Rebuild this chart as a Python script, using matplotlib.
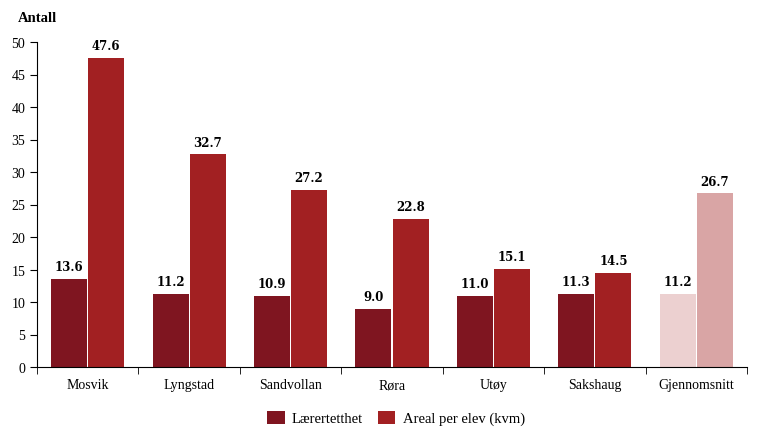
import matplotlib.pyplot as plt
import numpy as np

categories = ['Mosvik', 'Lyngstad', 'Sandvollan', 'Røra', 'Utøy', 'Sakshaug', 'Gjennomsnitt']
laerertetthet = [13.6, 11.2, 10.9, 9.0, 11.0, 11.3, 11.2]
areal = [47.6, 32.7, 27.2, 22.8, 15.1, 14.5, 26.7]

dark = '#7f1520'
red = '#a22022'
dark_avg = '#ecd0d0'
red_avg = '#d9a5a5'

plt.rcParams['font.family'] = ['Liberation Serif', 'DejaVu Serif']

fig = plt.figure(figsize=(7.57, 4.39), dpi=100)
ax = fig.add_axes([37 / 757, 1 - 368 / 439, 710 / 757, 325 / 439])

x = np.arange(len(categories))
w = 0.355
c1 = [dark] * (len(categories) - 1) + [dark_avg]
c2 = [red] * (len(categories) - 1) + [red_avg]
b1 = ax.bar(x - w / 2 - 0.005, laerertetthet, w, color=c1, label='Lærertetthet')
b2 = ax.bar(x + w / 2 + 0.005, areal, w, color=c2, label='Areal per elev (kvm)')

for bars, vals in ((b1, laerertetthet), (b2, areal)):
    for b, v in zip(bars, vals):
        ax.text(b.get_x() + b.get_width() / 2, v + 0.9, f'{v:.1f}',
                ha='center', va='bottom', fontsize=8.5, fontweight='bold',
                family='DejaVu Serif')

ax.set_xlim(-0.5, len(categories) - 0.5)
ax.set_ylim(0, 50)
ax.set_yticks(range(0, 51, 5))
ax.set_xticks(x)
ax.set_xticklabels(categories, fontsize=10)
ax.set_xticks(np.arange(-0.5, len(categories)), minor=True)
ax.tick_params(axis='x', which='major', length=0, pad=8)
ax.tick_params(axis='x', which='minor', length=5, direction='out')
ax.tick_params(axis='y', length=5, direction='out', labelsize=10)
for s in ('top', 'right'):
    ax.spines[s].set_visible(False)

fig.text(18 / 757, 1 - 18 / 439, 'Antall', fontsize=10.5, fontweight='bold', va='center')

leg = fig.legend(handles=[b1[0], b2[0]], labels=['Lærertetthet', 'Areal per elev (kvm)'],
                 loc='center', bbox_to_anchor=(396 / 757, 1 - 419 / 439), ncol=2, frameon=False,
                 fontsize=10.5, handlelength=1.2, handleheight=1.0, columnspacing=1.0,
                 handletextpad=0.5)

fig.savefig('out.png', dpi=100)
